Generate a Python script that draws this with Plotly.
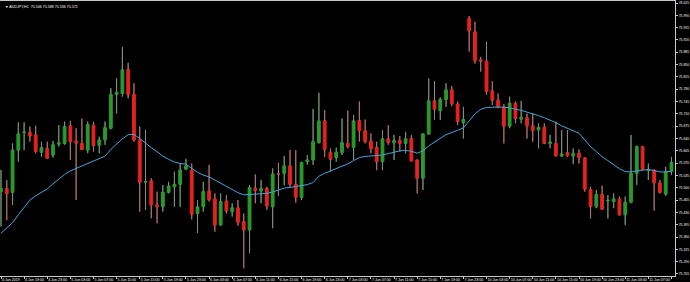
import plotly.graph_objects as go
import pandas as pd

symbol = "AUDJPY,H1"

open_ = [75.489, 75.498, 75.487, 75.607, 75.657, 75.657, 75.650, 75.601, 75.612, 75.593,
         75.624, 75.626, 75.676, 75.632, 75.626, 75.607, 75.678, 75.621, 75.636, 75.669,
         75.765, 75.768, 75.836, 75.765, 75.636, 75.516, 75.520, 75.451, 75.446, 75.487,
         75.503, 75.510, 75.553, 75.550, 75.427, 75.446, 75.491, 75.468, 75.394, 75.462,
         75.432, 75.443, 75.404, 75.380, 75.499, 75.491, 75.498, 75.446, 75.540, 75.541,
         75.562, 75.510, 75.472, 75.574, 75.579, 75.628, 75.690, 75.601, 75.586, 75.600,
         75.626, 75.615, 75.691, 75.662, 75.633, 75.615, 75.574, 75.639, 75.628, 75.634,
         75.626, 75.640, 75.579, 75.527, 75.653, 75.747, 75.719, 75.751, 75.778, 75.738,
         75.685, 75.981, 75.943, 75.863, 75.860, 75.775, 75.749, 75.730, 75.675, 75.740,
         75.695, 75.699, 75.676, 75.664, 75.672, 75.626, 75.626, 75.590, 75.600, 75.590,
         75.598, 75.585, 75.495, 75.446, 75.481, 75.463, 75.461, 75.468, 75.423, 75.459,
         75.541, 75.617, 75.549, 75.550, 75.514, 75.482, 75.546]

high = [75.551, 75.522, 75.626, 75.686, 75.686, 75.674, 75.676, 75.631, 75.631, 75.633,
        75.678, 75.688, 75.690, 75.669, 75.697, 75.688, 75.688, 75.645, 75.688, 75.783,
        75.811, 75.900, 75.855, 75.797, 75.674, 75.664, 75.527, 75.489, 75.508, 75.517,
        75.546, 75.569, 75.582, 75.569, 75.465, 75.517, 75.565, 75.484, 75.484, 75.479,
        75.456, 75.465, 75.427, 75.508, 75.538, 75.522, 75.503, 75.555, 75.571, 75.590,
        75.607, 75.607, 75.574, 75.593, 75.724, 75.770, 75.721, 75.612, 75.614, 75.697,
        75.719, 75.707, 75.745, 75.694, 75.655, 75.631, 75.664, 75.678, 75.650, 75.647,
        75.659, 75.650, 75.581, 75.655, 75.811, 75.803, 75.757, 75.797, 75.789, 75.745,
        75.730, 75.988, 75.972, 75.872, 75.915, 75.803, 75.768, 75.738, 75.759, 75.745,
        75.747, 75.711, 75.711, 75.683, 75.683, 75.650, 75.688, 75.664, 75.664, 75.612,
        75.609, 75.587, 75.503, 75.494, 75.506, 75.479, 75.484, 75.475, 75.475, 75.650,
        75.620, 75.619, 75.569, 75.552, 75.522, 75.560, 75.588]

low = [75.390, 75.408, 75.451, 75.574, 75.607, 75.631, 75.598, 75.588, 75.582, 75.586,
       75.617, 75.622, 75.579, 75.465, 75.607, 75.598, 75.603, 75.598, 75.622, 75.666,
       75.711, 75.759, 75.754, 75.631, 75.432, 75.437, 75.413, 75.399, 75.432, 75.484,
       75.446, 75.446, 75.550, 75.410, 75.372, 75.432, 75.461, 75.375, 75.392, 75.427,
       75.418, 75.392, 75.271, 75.314, 75.456, 75.456, 75.437, 75.385, 75.477, 75.507,
       75.503, 75.458, 75.465, 75.565, 75.565, 75.626, 75.588, 75.546, 75.574, 75.593,
       75.612, 75.579, 75.631, 75.626, 75.598, 75.550, 75.550, 75.622, 75.579, 75.603,
       75.598, 75.574, 75.484, 75.494, 75.650, 75.694, 75.693, 75.730, 75.732, 75.678,
       75.640, 75.887, 75.853, 75.830, 75.764, 75.735, 75.726, 75.626, 75.669, 75.683,
       75.683, 75.640, 75.631, 75.612, 75.624, 75.612, 75.588, 75.588, 75.588, 75.568,
       75.569, 75.489, 75.413, 75.442, 75.437, 75.413, 75.442, 75.421, 75.394, 75.456,
       75.508, 75.550, 75.522, 75.435, 75.484, 75.477, 75.536]

close = [75.498, 75.484, 75.607, 75.653, 75.658, 75.647, 75.603, 75.614, 75.584, 75.622,
         75.627, 75.674, 75.631, 75.627, 75.609, 75.680, 75.620, 75.636, 75.671, 75.765,
         75.771, 75.835, 75.765, 75.636, 75.515, 75.518, 75.451, 75.446, 75.487, 75.505,
         75.510, 75.550, 75.562, 75.425, 75.446, 75.489, 75.467, 75.394, 75.461, 75.434,
         75.443, 75.402, 75.380, 75.501, 75.492, 75.498, 75.448, 75.539, 75.539, 75.562,
         75.510, 75.473, 75.572, 75.579, 75.631, 75.690, 75.609, 75.581, 75.601, 75.628,
         75.617, 75.690, 75.662, 75.631, 75.611, 75.574, 75.639, 75.629, 75.634, 75.626,
         75.639, 75.576, 75.527, 75.653, 75.747, 75.723, 75.751, 75.778, 75.740, 75.688,
         75.694, 75.946, 75.861, 75.860, 75.773, 75.749, 75.730, 75.675, 75.740, 75.697,
         75.700, 75.676, 75.662, 75.672, 75.626, 75.630, 75.591, 75.596, 75.591, 75.598,
         75.586, 75.496, 75.446, 75.481, 75.439, 75.464, 75.468, 75.423, 75.459, 75.541,
         75.617, 75.552, 75.551, 75.514, 75.487, 75.546, 75.572]

ma = [75.371, 75.385, 75.401, 75.423, 75.443, 75.465, 75.477, 75.487, 75.497, 75.511,
      75.524, 75.538, 75.548, 75.555, 75.560, 75.568, 75.574, 75.581, 75.590, 75.609,
      75.624, 75.639, 75.651, 75.652, 75.640, 75.626, 75.614, 75.603, 75.590, 75.581,
      75.573, 75.569, 75.567, 75.555, 75.544, 75.536, 75.531, 75.522, 75.513, 75.506,
      75.496, 75.486, 75.480, 75.481, 75.482, 75.483, 75.484, 75.488, 75.494, 75.499,
      75.501, 75.503, 75.505, 75.509, 75.515, 75.533, 75.541, 75.548, 75.553, 75.560,
      75.568, 75.577, 75.586, 75.589, 75.590, 75.591, 75.593, 75.597, 75.602, 75.605,
      75.606, 75.604, 75.598, 75.605, 75.619, 75.629, 75.640, 75.651, 75.657, 75.664,
      75.670, 75.690, 75.710, 75.723, 75.728, 75.729, 75.730, 75.729, 75.727, 75.724,
      75.720, 75.715, 75.711, 75.705, 75.699, 75.693, 75.685, 75.676, 75.669, 75.662,
      75.655, 75.636, 75.617, 75.603, 75.588, 75.577, 75.565, 75.554, 75.546, 75.545,
      75.548, 75.550, 75.552, 75.549, 75.545, 75.545, 75.547]

# hourly bar times (weekend gap between 7 Jun and 10 Jun)
times = list(pd.date_range("2019-06-04 15:00", "2019-06-07 23:00", freq="h")) + \
        list(pd.date_range("2019-06-10 00:00", "2019-06-11 11:00", freq="h"))

n = len(close)
x = list(range(n))

tick_idx = list(range(0, n, 4))
tick_text = []
for k in tick_idx:
    t = times[k]
    if k == 0:
        tick_text.append(f"{t.day} {t:%b} {t.year}")
    else:
        tick_text.append(f"{t.day} {t:%b} {t:%H:%M}")

GREEN = "#2a9a2a"
RED = "#e4231d"
WICK = "#8a8a8a"
MA_COLOR = "#4aa3dc"
FG = "#c8c8c8"

fig = go.Figure()
fig.add_trace(go.Candlestick(
    x=x, open=open_, high=high, low=low, close=close,
    increasing=dict(line=dict(color=GREEN, width=1), fillcolor=GREEN),
    decreasing=dict(line=dict(color=RED, width=1), fillcolor=RED),
    whiskerwidth=0, hoverinfo="skip", showlegend=False))

wx, wy = [], []
for i in range(n):
    top = max(open_[i], close[i])
    bot = min(open_[i], close[i])
    wx += [i, i, None, i, i, None]
    wy += [high[i], top, None, bot, low[i], None]
fig.add_trace(go.Scatter(x=wx, y=wy, mode="lines",
                         line=dict(color=WICK, width=1), hoverinfo="skip", showlegend=False))

fig.add_trace(go.Scatter(x=x, y=ma, mode="lines",
                         line=dict(color=MA_COLOR, width=1), hoverinfo="skip", showlegend=False))

header = f"\u25bc {symbol}  {open_[-1]:.3f} {high[-1]:.3f} {low[-1]:.3f} {close[-1]:.3f}"
fig.add_annotation(text=header, xref="paper", yref="paper", x=0.004, y=0.993,
                   xanchor="left", yanchor="top", showarrow=False,
                   font=dict(family="Liberation Sans, Arial", size=3.6, color="#ffffff"))

fig.update_layout(
    width=690, height=282,
    margin=dict(l=0, r=15, t=1, b=6),
    paper_bgcolor="#000000", plot_bgcolor="#000000",
    showlegend=False,
    font=dict(family="Liberation Sans, Arial", color="#ffffff"),
    xaxis=dict(range=[-0.173, 116.61], tickmode="array", tickvals=tick_idx, ticktext=tick_text,
               tickangle=0, automargin=False,
               ticks="outside", ticklen=2, tickcolor=FG, tickfont=dict(size=3.6, color="#ffffff"),
               ticklabelposition="outside right",
               showgrid=False, zeroline=False, showline=True, linecolor=FG, linewidth=1,
               mirror=True, rangeslider=dict(visible=False)),
    yaxis=dict(range=[75.2493, 76.0307], side="right", tick0=75.255, dtick=0.035,
               tickformat=".3f", ticks="outside", ticklen=2, tickcolor=FG, automargin=False,
               tickfont=dict(size=3.4, color="#ffffff"),
               showgrid=False, zeroline=False, showline=True, linecolor=FG, linewidth=1,
               mirror=True),
)

fig.write_html("out.html")
